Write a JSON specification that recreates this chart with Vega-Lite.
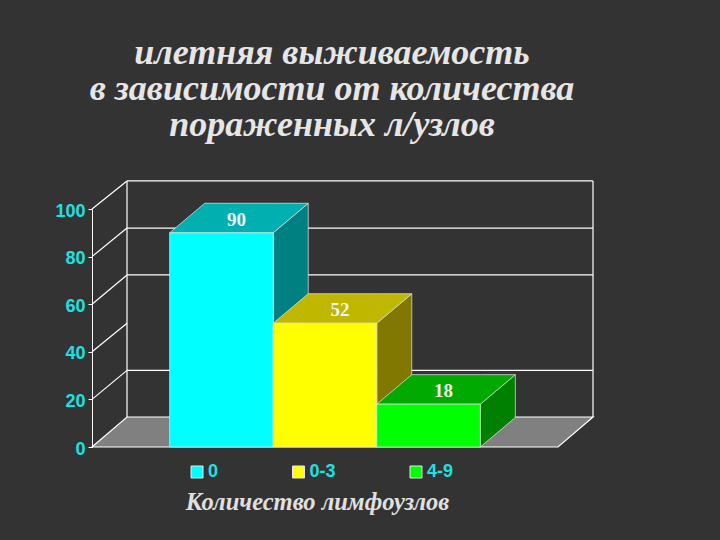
{
  "$schema": "https://vega.github.io/schema/vega-lite/v5.json",
  "width": 466,
  "height": 238,
  "autosize": "none",
  "padding": {"left": 92, "top": 209, "right": 162, "bottom": 93},
  "background": "#333333",
  "config": {"view": {"stroke": null}},
  "title": {
    "text": ["илетняя выживаемость", "в зависимости от количества", "пораженных л/узлов"],
    "font": "Liberation Serif",
    "fontStyle": "italic",
    "fontWeight": "bold",
    "fontSize": 36,
    "lineHeight": 36,
    "color": "#e6e6e6",
    "anchor": "middle",
    "dx": 7,
    "offset": 36
  },
  "datasets": {
    "bars": [
      {"group": "0", "value": 90},
      {"group": "0-3", "value": 52},
      {"group": "4-9", "value": 18}
    ],
    "floor": [
      {"pos": -0.75, "low": 0, "high": 0},
      {"pos": -0.412, "low": 0, "high": 12.6},
      {"pos": 3.75, "low": 0, "high": 12.6},
      {"pos": 4.088, "low": 12.6, "high": 12.6}
    ],
    "lines": [
      {"x0": -0.75, "x1": -0.412, "y0": 20, "y1": 32.2},
      {"x0": -0.75, "x1": -0.412, "y0": 40, "y1": 52},
      {"x0": -0.75, "x1": -0.412, "y0": 60, "y1": 72.3},
      {"x0": -0.75, "x1": -0.412, "y0": 80, "y1": 92},
      {"x0": -0.75, "x1": -0.412, "y0": 100, "y1": 111.8},
      {"x0": -0.412, "x1": 4.088, "y0": 32.2, "y1": 32.2},
      {"x0": -0.412, "x1": 4.088, "y0": 72.3, "y1": 72.3},
      {"x0": -0.412, "x1": 4.088, "y0": 92, "y1": 92},
      {"x0": -0.412, "x1": 4.088, "y0": 111.8, "y1": 111.8},
      {"x0": -0.412, "x1": -0.412, "y0": 12.6, "y1": 111.8},
      {"x0": 4.088, "x1": 4.088, "y0": 12.6, "y1": 111.8}
    ],
    "sides": [
      {"group": "0", "pos": 1, "low": 0, "high": 90},
      {"group": "0", "pos": 1.338, "low": 12.4, "high": 102.4},
      {"group": "0-3", "pos": 2, "low": 0, "high": 52},
      {"group": "0-3", "pos": 2.338, "low": 12.4, "high": 64.4},
      {"group": "4-9", "pos": 3, "low": 0, "high": 18},
      {"group": "4-9", "pos": 3.338, "low": 12.4, "high": 30.4}
    ],
    "tops": [
      {"group": "0", "pos": 0, "low": 90, "high": 90},
      {"group": "0", "pos": 0.338, "low": 90, "high": 102.4},
      {"group": "0", "pos": 1, "low": 90, "high": 102.4},
      {"group": "0", "pos": 1.338, "low": 102.4, "high": 102.4},
      {"group": "0-3", "pos": 1, "low": 52, "high": 52},
      {"group": "0-3", "pos": 1.338, "low": 52, "high": 64.4},
      {"group": "0-3", "pos": 2, "low": 52, "high": 64.4},
      {"group": "0-3", "pos": 2.338, "low": 64.4, "high": 64.4},
      {"group": "4-9", "pos": 2, "low": 18, "high": 18},
      {"group": "4-9", "pos": 2.338, "low": 18, "high": 30.4},
      {"group": "4-9", "pos": 3, "low": 18, "high": 30.4},
      {"group": "4-9", "pos": 3.338, "low": 30.4, "high": 30.4}
    ]
  },
  "layer": [
    {
      "data": {"name": "floor"},
      "mark": {"type": "area", "fill": "#808080", "stroke": "#ffffff", "strokeWidth": 1.2, "clip": false},
      "encoding": {
        "x": {"field": "pos", "type": "quantitative", "axis": null, "scale": {"domain": [-0.75, 3.75], "nice": false, "zero": false}},
        "y": {
          "field": "low",
          "type": "quantitative",
          "stack": null,
          "title": null,
          "scale": {"domain": [0, 100], "nice": false},
          "axis": {
            "values": [0, 20, 40, 60, 80, 100],
            "grid": false,
            "domainColor": "#ffffff",
            "tickColor": "#ffffff",
            "tickSize": 4,
            "labelPadding": 3,
            "labelOffset": 2,
            "labelFont": "Liberation Sans",
            "labelFontWeight": "bold",
            "labelFontSize": 18,
            "labelColor": "#1fe0e0"
          }
        },
        "y2": {"field": "high"}
      }
    },
    {
      "data": {"name": "lines"},
      "mark": {"type": "rule", "color": "#ffffff", "strokeWidth": 1.2},
      "encoding": {
        "x": {"field": "x0", "type": "quantitative", "axis": null, "scale": {"domain": [-0.75, 3.75], "nice": false, "zero": false}},
        "x2": {"field": "x1"},
        "y": {"field": "y0", "type": "quantitative"},
        "y2": {"field": "y1"}
      }
    },
    {
      "data": {"name": "sides"},
      "mark": {"type": "area", "stroke": "#e8e8e8", "strokeWidth": 0.7},
      "encoding": {
        "x": {"field": "pos", "type": "quantitative", "axis": null, "scale": {"domain": [-0.75, 3.75], "nice": false, "zero": false}},
        "y": {"field": "low", "type": "quantitative", "stack": null},
        "y2": {"field": "high"},
        "color": {
          "field": "group",
          "type": "nominal",
          "legend": null,
          "scale": {"domain": ["0", "0-3", "4-9"], "range": ["#008080", "#807800", "#008000"]}
        }
      }
    },
    {
      "data": {"name": "tops"},
      "mark": {"type": "area", "stroke": "#e8e8e8", "strokeWidth": 0.7},
      "encoding": {
        "x": {"field": "pos", "type": "quantitative", "axis": null, "scale": {"domain": [-0.75, 3.75], "nice": false, "zero": false}},
        "y": {"field": "low", "type": "quantitative", "stack": null},
        "y2": {"field": "high"},
        "color": {
          "field": "group",
          "type": "nominal",
          "legend": null,
          "scale": {"domain": ["0", "0-3", "4-9"], "range": ["#00b0b0", "#c0b800", "#00aa00"]}
        }
      }
    },
    {
      "data": {"name": "bars"},
      "mark": {"type": "bar", "stroke": "#e8e8e8", "strokeWidth": 0.7},
      "encoding": {
        "x": {
          "field": "group",
          "type": "nominal",
          "scale": {"domain": ["0", "0-3", "4-9"], "paddingInner": 0, "paddingOuter": 0.75},
          "title": "Количество лимфоузлов",
          "axis": {
            "domain": false,
            "ticks": false,
            "labels": false,
            "grid": false,
            "titleFont": "Liberation Serif",
            "titleFontStyle": "italic",
            "titleFontWeight": "bold",
            "titleFontSize": 24.5,
            "titleColor": "#e0e0e0",
            "titleX": 225,
            "titleY": 43
          }
        },
        "y": {"field": "value", "type": "quantitative", "stack": null},
        "color": {
          "field": "group",
          "type": "nominal",
          "scale": {"domain": ["0", "0-3", "4-9"], "range": ["#00ffff", "#ffff00", "#00ff00"]},
          "legend": {
            "title": null,
            "orient": "none",
            "legendX": 96,
            "legendY": 254,
            "direction": "horizontal",
            "columns": 3,
            "columnPadding": 70.5,
            "gridAlign": "each",
            "symbolType": "square",
            "symbolSize": 144,
            "symbolStrokeColor": "#e8e8e8",
            "symbolStrokeWidth": 1,
            "labelFont": "Liberation Sans",
            "labelFontWeight": "bold",
            "labelFontSize": 18,
            "labelColor": "#1fe0e0",
            "labelOffset": 2
          }
        }
      }
    },
    {
      "data": {"name": "bars"},
      "mark": {
        "type": "text",
        "font": "Liberation Serif",
        "fontWeight": "bold",
        "fontSize": 19,
        "color": "#f2f2f2",
        "dx": 15,
        "dy": -13
      },
      "encoding": {
        "x": {
          "field": "group",
          "type": "nominal",
          "axis": null,
          "scale": {"type": "band", "domain": ["0", "0-3", "4-9"], "paddingInner": 0, "paddingOuter": 0.75}
        },
        "y": {"field": "value", "type": "quantitative"},
        "text": {"field": "value", "type": "quantitative"}
      }
    }
  ],
  "resolve": {"scale": {"x": "independent", "color": "independent"}}
}
